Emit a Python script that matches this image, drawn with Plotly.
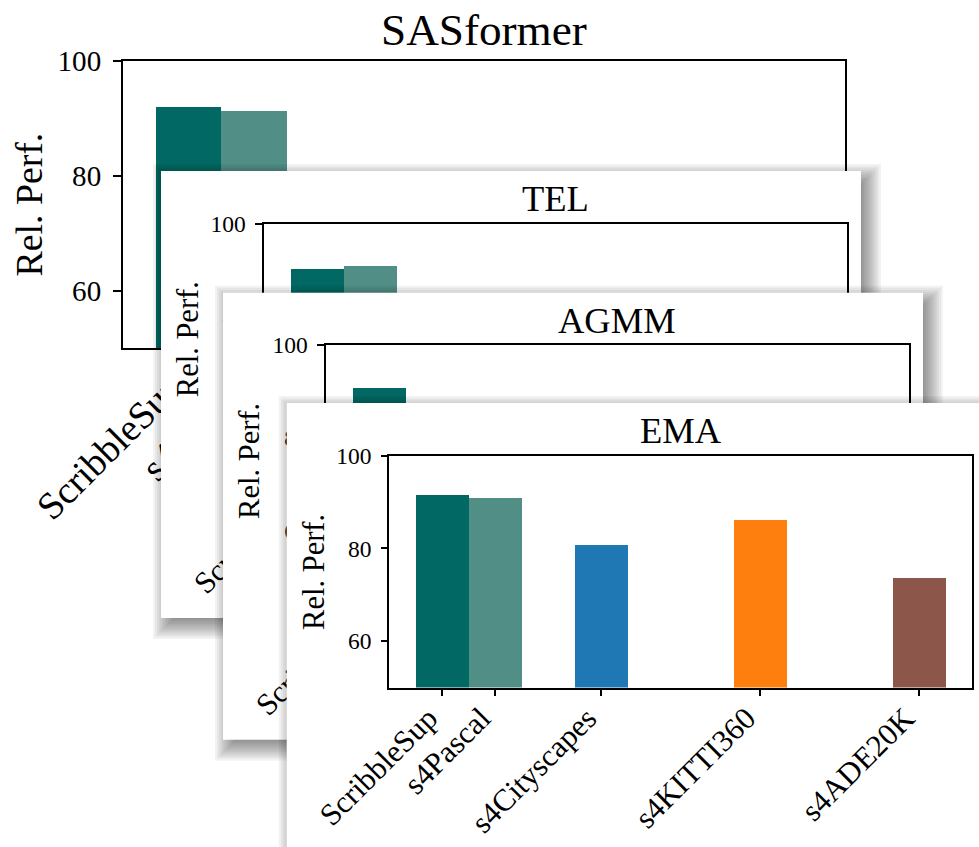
import plotly.graph_objects as go

W, H = 979, 847

# ---------------- data ----------------
panel_names = ["SASformer", "TEL", "AGMM", "EMA"]
categories = ["ScribbleSup", "s4Pascal", "s4Cityscapes", "s4KITTI360", "s4ADE20K"]
sasformer_vals = [91.9, 91.3, 76.0, 79.0, 68.0]
tel_vals = [90.4, 90.9, 78.0, 82.0, 70.0]
agmm_vals = [90.7, 87.0, 79.0, 84.0, 71.0]
ema_vals = [91.5, 91.0, 80.8, 86.2, 73.7]
y_tick_vals = [60, 80, 100]
y_range = [50, 100]
y_label = "Rel. Perf."
bar_colors = ["#026863", "#518f86", "#1f77b4", "#ff7f0e", "#8c564b"]

panel_vals = [sasformer_vals, tel_vals, agmm_vals, ema_vals]

# ---------------- layout geometry (pixels) ----------------
BAR_W = 1 / 3
xpos = [0, BAR_W, 1, 2, 3]            # ScribbleSup / s4Pascal paired, others one per slot
x_range = [-BAR_W, 3 + BAR_W]

FONT = "Liberation Serif"
card_origins = [(161, 171), (223, 292.7), (286.7, 403)]
CARD_W, CARD_H = 700, 447
PLOT_OFF = (102.7, 52.5)
PLOT_W, PLOT_H = 583, 232

# panel geometry: (plot_left, plot_top, plot_w, plot_h, scale)
geo = [(123, 61, 722, 287, 722 / 583)]
for (cx, cy) in card_origins:
    geo.append((cx + PLOT_OFF[0], cy + PLOT_OFF[1], PLOT_W, PLOT_H, 1.0))

fig = go.Figure()
layout = dict(width=W, height=H, margin=dict(l=0, r=0, t=0, b=0, autoexpand=False),
              paper_bgcolor="white", plot_bgcolor="rgba(0,0,0,0)",
              showlegend=False, bargap=0)
shapes = []
annotations = []


def fx(px):
    return px / W


def fy(py):
    return 1 - py / H


def ax_names(n):
    return ("xaxis" if n == 1 else f"xaxis{n}", "yaxis" if n == 1 else f"yaxis{n}",
            "x" if n == 1 else f"x{n}", "y" if n == 1 else f"y{n}")


n = 0
for i, (name, vals) in enumerate(zip(panel_names, panel_vals)):
    left, top, pw, ph, s = geo[i]
    # ---- card subplot (lower panels) ----
    if i > 0:
        n += 1
        cx, cy = card_origins[i - 1]
        pad = 30
        x0 = max(0, cx - pad); x1 = min(W, cx + CARD_W + pad)
        y0 = max(0, cy - pad); y1 = min(H, cy + CARD_H + pad)
        xa, ya, xr, yr = ax_names(n)
        layout[xa] = dict(domain=[fx(x0), fx(x1)], range=[x0, x1], visible=False,
                          anchor=yr, fixedrange=True, automargin=False)
        layout[ya] = dict(domain=[fy(y1), fy(y0)], range=[y1, y0], visible=False,
                          anchor=xr, fixedrange=True, automargin=False)
        fig.add_trace(go.Scatter(x=[cx + CARD_W / 2], y=[cy + CARD_H / 2], mode="markers",
                                 marker=dict(opacity=0), hoverinfo="skip",
                                 xaxis=xr, yaxis=yr))
        # soft drop shadow
        dx, dy, R, nl = 6, 7, 14, 14
        for k in range(nl):
            e = R * (1 - 2 * k / (nl - 1))
            shapes.append(dict(type="rect", xref=xr, yref=yr, layer="below",
                               x0=cx + dx - e, x1=cx + CARD_W + dx + e,
                               y0=cy + dy - e, y1=cy + CARD_H + dy + e,
                               fillcolor="rgba(0,0,0,0.05)", line=dict(width=0)))
        shapes.append(dict(type="rect", xref=xr, yref=yr, layer="below",
                           x0=cx, x1=cx + CARD_W, y0=cy, y1=cy + CARD_H,
                           fillcolor="white", line=dict(width=0)))
    # ---- plot subplot ----
    n += 1
    xa, ya, xr, yr = ax_names(n)
    lw = 1.5 * s
    common = dict(showgrid=False, zeroline=False, showline=True, linecolor="black",
                  linewidth=lw, mirror=True, ticks="outside", tickcolor="black",
                  tickwidth=lw, ticklen=6.5 * s, fixedrange=True, automargin=False)
    layout[xa] = dict(domain=[fx(left), fx(left + pw)], range=x_range, anchor=yr,
                      tickmode="array", tickvals=xpos, ticktext=categories,
                      tickangle=-45, ticklabelshift=int(-14 * s),
                      ticklabelstandoff=int(-8 * s),
                      tickfont=dict(family=FONT, size=31 * s, color="black"), **common)
    layout[ya] = dict(domain=[fy(top + ph), fy(top)], range=y_range, anchor=xr,
                      tickmode="array", tickvals=y_tick_vals,
                      tickfont=dict(family=FONT, size=23.5 * s, color="black"),
                      ticklabelstandoff=int(5 * s), **common)
    fig.add_trace(go.Bar(x=xpos, y=vals, width=BAR_W, marker=dict(color=bar_colors, line=dict(width=0)),
                         xaxis=xr, yaxis=yr, hoverinfo="x+y"))
    # title
    annotations.append(dict(text=name, xref="paper", yref="paper", showarrow=False,
                            x=fx(left + pw / 2), y=fy(top - 25 * s), xanchor="center",
                            yanchor="middle",
                            font=dict(family=FONT, size=36.5 * s, color="black")))
    # y label
    annotations.append(dict(text=y_label, xref="paper", yref="paper", showarrow=False,
                            x=fx(left - 76 * s), y=fy(top + ph / 2), xanchor="center",
                            yanchor="middle", textangle=-90,
                            font=dict(family=FONT, size=30.5 * s, color="black")))

layout["shapes"] = shapes
layout["annotations"] = annotations
fig.update_layout(**layout)
fig.write_html("out.html", config={"displayModeBar": False},
               post_script="document.body.style.margin='0px';")
